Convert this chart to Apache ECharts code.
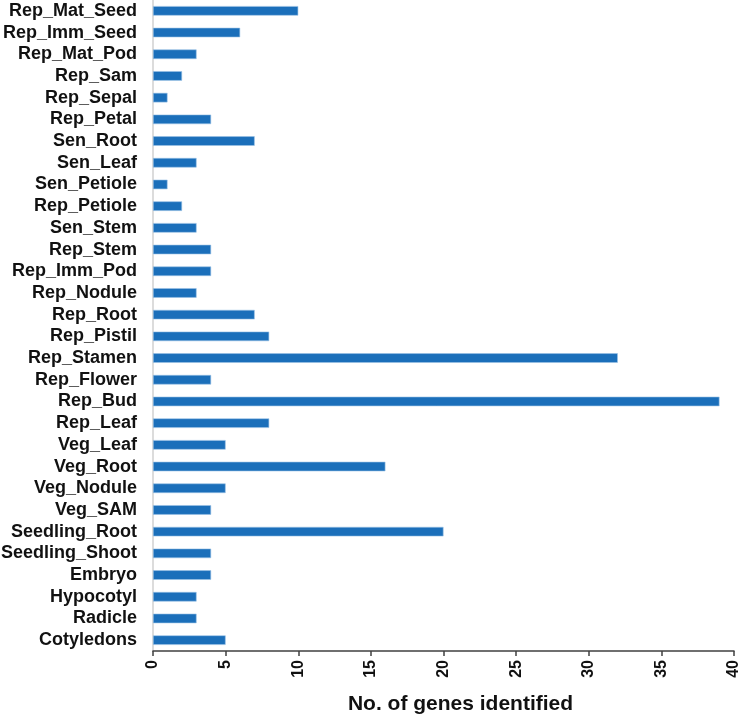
<!DOCTYPE html>
<html><head><meta charset="utf-8">
<script src="https://cdn.jsdelivr.net/npm/echarts@6/dist/echarts.min.js"></script>
<style>html,body{margin:0;padding:0;background:#fff}#c{width:742px;height:719px}</style>
</head><body><div id="c"></div>
<script>
const categories = ["Cotyledons","Radicle","Hypocotyl","Embryo","Seedling_Shoot","Seedling_Root","Veg_SAM","Veg_Nodule","Veg_Root","Veg_Leaf","Rep_Leaf","Rep_Bud","Rep_Flower","Rep_Stamen","Rep_Pistil","Rep_Root","Rep_Nodule","Rep_Imm_Pod","Rep_Stem","Sen_Stem","Rep_Petiole","Sen_Petiole","Sen_Leaf","Sen_Root","Rep_Petal","Rep_Sepal","Rep_Sam","Rep_Mat_Pod","Rep_Imm_Seed","Rep_Mat_Seed"];
const values = [5,3,3,4,4,20,4,5,16,5,8,39,4,32,8,7,3,4,4,3,2,1,3,7,4,1,2,3,6,10];
const chart = echarts.init(document.getElementById('c'));
chart.setOption({
  animation:false,
  grid:{left:153,right:8,top:0,bottom:68,containLabel:false,outerBoundsMode:'none'},
  xAxis:{type:'value',min:0,max:40,interval:5,
    name:'No. of genes identified',nameLocation:'middle',nameGap:43,
    nameTextStyle:{fontFamily:'Liberation Sans',fontWeight:'bold',fontSize:21,color:'#111',padding:[0,0,0,34]},
    axisLine:{show:true,lineStyle:{color:'#404040',width:1.5}},
    axisTick:{show:true,length:5,lineStyle:{color:'#404040',width:1.5}},
    axisLabel:{rotate:90,fontFamily:'Liberation Sans',fontWeight:'bold',fontSize:16,color:'#111',margin:9},
    splitLine:{show:false}},
  yAxis:{type:'category',data:categories,
    axisLine:{show:true,lineStyle:{color:'#d0d0d0',width:1.5}},
    axisTick:{show:false},
    axisLabel:{interval:0,fontFamily:'Liberation Sans',fontWeight:'bold',fontSize:18,color:'#111',margin:16}},
  series:[{type:'bar',data:values,barWidth:'44%',
    itemStyle:{color:'#1b6fba',borderColor:'#9cc2e6',borderWidth:0.6}}]
});
</script></body></html>
